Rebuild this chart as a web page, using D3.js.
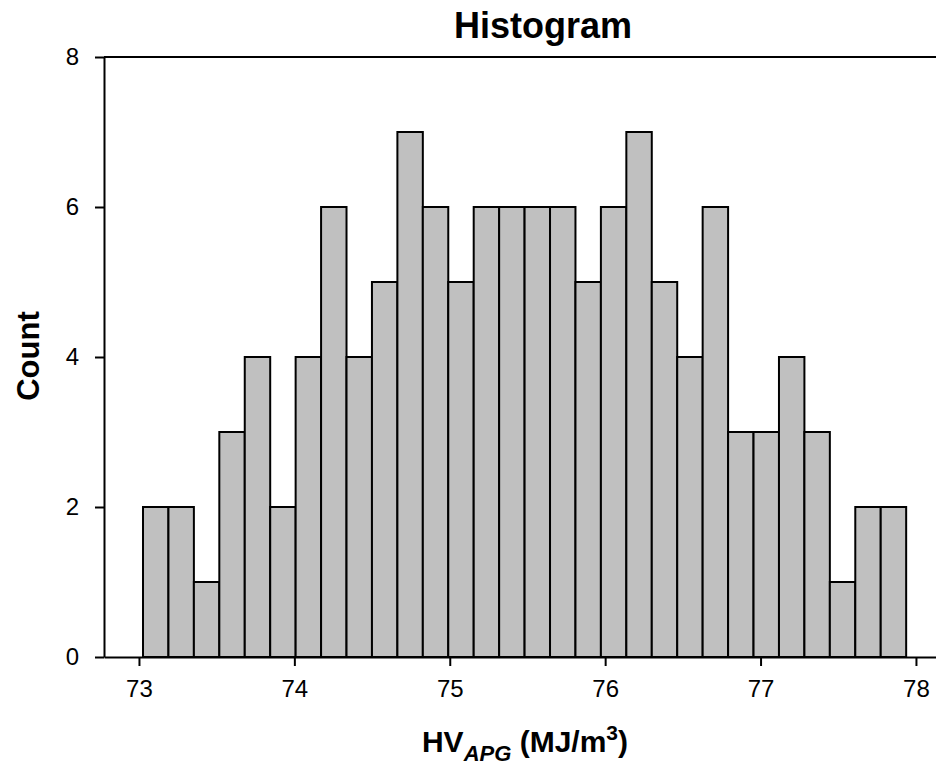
<!DOCTYPE html>
<head>
    <meta charset="utf-8">
    <title>Histogram</title>
    <style>
        body { margin: 0; background: #fff; }
        svg { display: block; font-family: Arial, "Liberation Sans", sans-serif; }
    </style>
</head>

<body>

    <svg width="936" height="774"></svg>

    <script src="https://cdn.jsdelivr.net/npm/d3@7"></script>

    <script>

        // bin counts, left to right
        var counts = [2, 2, 1, 3, 4, 2, 4, 6, 4, 5, 7, 6, 5, 6, 6, 6, 6, 5, 6, 7, 5, 4, 6, 3, 3, 4, 3, 1, 2, 2];
        var binStart = 73.026,
            binWidth = 0.1637;
        var xTicks = [73, 74, 75, 76, 77, 78];
        var yTicks = [0, 2, 4, 6, 8];

        var bins = counts.map(function (c, i) {
            return { x0: binStart + i * binWidth, x1: binStart + (i + 1) * binWidth, count: c };
        });

        var svg = d3.select("svg"),
            plotLeft = 104, plotRight = 936, plotTop = 57, plotBottom = 657;

        var x = d3.scaleLinear().domain([72.775, 78.129]).range([plotLeft, plotRight]),
            y = d3.scaleLinear().domain([0, 8]).range([plotBottom, plotTop]);

        // bars
        svg.append("g")
            .selectAll("rect")
            .data(bins)
            .enter().append("rect")
            .attr("x", function (d) { return x(d.x0); })
            .attr("y", function (d) { return y(d.count); })
            .attr("width", function (d) { return x(d.x1) - x(d.x0); })
            .attr("height", function (d) { return y(0) - y(d.count); })
            .style("fill", "#c0c0c0")
            .style("stroke", "#000")
            .style("stroke-width", 2);

        // top frame line
        svg.append("line")
            .attr("x1", plotLeft).attr("x2", plotRight)
            .attr("y1", plotTop).attr("y2", plotTop)
            .style("stroke", "#000").style("stroke-width", 2);

        var xAxis = svg.append("g")
            .attr("transform", "translate(0," + plotBottom + ")")
            .call(d3.axisBottom(x).tickValues(xTicks).tickFormat(d3.format("d"))
                .tickSize(9).tickPadding(14).tickSizeOuter(0));

        var yAxis = svg.append("g")
            .attr("transform", "translate(" + plotLeft + ",0)")
            .call(d3.axisLeft(y).tickValues(yTicks).tickFormat(d3.format("d"))
                .tickSize(9).tickPadding(16).tickSizeOuter(0));

        [xAxis, yAxis].forEach(function (a) {
            a.select(".domain").style("stroke", "#000").style("stroke-width", 2);
            a.selectAll(".tick line").style("stroke", "#000").style("stroke-width", 2);
            a.selectAll(".tick text")
                .style("font-family", "Arial, 'Liberation Sans', sans-serif")
                .style("font-size", "24px")
                .style("fill", "#000");
        });

        // title
        svg.append("text")
            .attr("x", 543)
            .attr("y", 38)
            .style("text-anchor", "middle")
            .style("font-size", "36px")
            .style("font-weight", "bold")
            .text("Histogram");

        // y label
        svg.append("text")
            .attr("transform", "translate(39," + 356 + ") rotate(-90)")
            .style("text-anchor", "middle")
            .style("font-size", "31px")
            .style("font-weight", "bold")
            .text("Count");

        // x label with subscript and superscript
        var xl = svg.append("text")
            .attr("x", 525)
            .attr("y", 752)
            .style("text-anchor", "middle")
            .style("font-size", "30px")
            .style("font-weight", "bold");
        xl.append("tspan").text("HV");
        xl.append("tspan").attr("dy", 9).style("font-size", "22px").style("font-style", "italic").text("APG");
        xl.append("tspan").attr("dy", -9).text(" (MJ/m");
        xl.append("tspan").attr("dy", -12).style("font-size", "21px").text("3");
        xl.append("tspan").attr("dy", 12).text(")");

    </script>

</body>
